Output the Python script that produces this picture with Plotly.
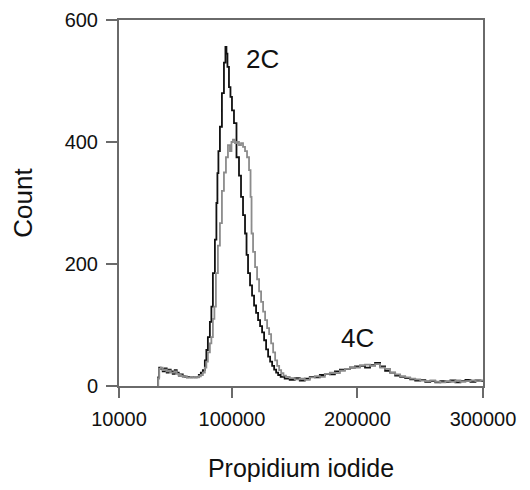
import plotly.graph_objects as go

# black histogram (sample 1)
black_x = [40800, 41600, 42400, 44000, 45600, 47200, 48800, 50400, 52000, 53600,
           55200, 56800, 58400, 60000, 61600, 63200, 64800, 66400, 68000, 69600,
           71200, 72800, 74400, 76000, 77600, 79200, 80000, 81600, 83200, 84000,
           85600, 87200, 88000, 88800, 89600, 91200, 92800, 94400, 95200, 96000,
           96800, 98400, 99200, 100800, 102400, 104800, 106400, 108000, 109600, 111200,
           112000, 113600, 115200, 116800, 118400, 120000, 121600, 123200, 124800, 126400,
           128000, 129600, 131200, 132800, 134400, 136000, 137600, 140000, 144000, 148000,
           152000, 156000, 160000, 164000, 168000, 172000, 176000, 180000, 184000, 188000,
           192000, 196000, 200000, 204000, 208000, 212000, 216000, 220000, 224000, 228000,
           232000, 236000, 240000, 244000, 248000, 252000, 256000, 260000, 264000, 268000,
           272000, 276000, 280000, 284000, 288000, 292000, 296000, 300000]
black_y = [0, 14, 30, 28, 24, 29, 22, 27, 24, 20,
           26, 22, 17, 19, 16, 15, 14, 15, 14, 15,
           14, 15, 18, 22, 26, 42, 59, 80, 105, 130,
           185, 240, 300, 349, 385, 425, 480, 530, 556, 545,
           523, 490, 474, 452, 431, 375, 345, 310, 280, 250,
           215, 185, 165, 148, 132, 120, 108, 98, 88, 75,
           60, 48, 40, 33, 27, 22, 18, 15, 12, 10,
           13, 9, 12, 15, 14, 18, 20, 19, 24, 27,
           28, 30, 32, 33, 30, 34, 38, 32, 25, 22,
           17, 15, 13, 11, 9, 10, 7, 8, 6, 8,
           7, 9, 6, 8, 10, 7, 9, 8]

# gray histogram (sample 2)
gray_x = [40800, 41600, 42400, 44000, 45600, 47200, 48800, 50400, 52000, 53600,
          55200, 56800, 58400, 60000, 61600, 63200, 64800, 66400, 68000, 69600,
          71200, 72800, 74400, 76000, 77600, 79200, 80000, 81600, 83200, 84000,
          85600, 86400, 88000, 89600, 91200, 92800, 94400, 96000, 97600, 99200,
          100000, 101600, 103200, 104800, 106400, 108000, 109600, 111200, 112800, 114400,
          115200, 116000, 117600, 119200, 120800, 122400, 124000, 125600, 127200, 128800,
          130400, 132000, 133600, 135200, 136800, 138400, 140000, 142000, 144000, 148000,
          152000, 156000, 160000, 164000, 168000, 172000, 176000, 180000, 184000, 188000,
          192000, 196000, 200000, 204000, 208000, 212000, 216000, 220000, 224000, 228000,
          232000, 236000, 240000, 244000, 248000, 252000, 256000, 260000, 264000, 268000,
          272000, 276000, 280000, 284000, 288000, 292000, 296000, 300000]
gray_y = [0, 12, 28, 30, 26, 27, 24, 25, 22, 22,
          24, 20, 18, 17, 15, 16, 14, 14, 15, 14,
          15, 14, 16, 18, 22, 30, 40, 55, 70, 80,
          110, 130, 185, 230, 267, 320, 350, 375, 395, 385,
          400, 404, 398, 400, 395, 398, 392, 385, 375, 354,
          310, 250, 220, 195, 175, 155, 138, 122, 108, 95,
          85, 70, 55, 42, 33, 26, 21, 17, 15, 13,
          11, 12, 10, 14, 16, 15, 20, 22, 21, 25,
          28, 31, 30, 34, 35, 33, 36, 30, 28, 22,
          19, 16, 14, 12, 11, 9, 8, 9, 7, 6,
          8, 7, 9, 7, 8, 9, 8, 9]

x_ticks = [10000, 100000, 200000, 300000]
y_ticks = [0, 200, 400, 600]

AXIS = '#6a6a6a'
FONT = 'Liberation Sans, Arial, sans-serif'

fig = go.Figure()
fig.add_trace(go.Scatter(x=black_x, y=black_y, mode='lines', line_shape='hvh',
                         line=dict(color='#111111', width=1.8), name='black'))
fig.add_trace(go.Scatter(x=gray_x, y=gray_y, mode='lines', line_shape='hvh',
                         line=dict(color='#8c8c8c', width=1.8), name='gray'))

fig.add_annotation(x=124000, y=536, text='2C', showarrow=False,
                   font=dict(size=26, color='#111111', family=FONT))
fig.add_annotation(x=200000, y=78, text='4C', showarrow=False,
                   font=dict(size=26, color='#111111', family=FONT))

# page body has an 8px margin, so the figure is sized to fit inside it
fig.update_layout(
    width=514, height=474,
    margin=dict(l=111, r=39, t=12, b=96, autoexpand=False),
    paper_bgcolor='white', plot_bgcolor='white',
    showlegend=False,
    font=dict(family=FONT, color='#111111'),
)
fig.update_xaxes(
    range=[10000, 300000], tickvals=x_ticks, ticktext=[str(v) for v in x_ticks],
    showgrid=False, zeroline=False, showline=True, mirror=True, automargin=False,
    linecolor=AXIS, linewidth=2, ticks='outside', ticklen=10, tickwidth=2,
    tickcolor=AXIS, tickfont=dict(size=20), ticklabelstandoff=4,
    title=dict(text='Propidium iodide', font=dict(size=25), standoff=30),
)
fig.update_yaxes(
    range=[0, 600], tickvals=y_ticks, ticktext=[str(v) for v in y_ticks],
    showgrid=False, zeroline=False, showline=True, mirror=True, automargin=False,
    linecolor=AXIS, linewidth=2, ticks='outside', ticklen=11, tickwidth=2,
    tickcolor=AXIS, tickfont=dict(size=20), ticklabelstandoff=4,
    title=dict(text='Count', font=dict(size=26), standoff=34),
)

fig.write_html('out.html')
